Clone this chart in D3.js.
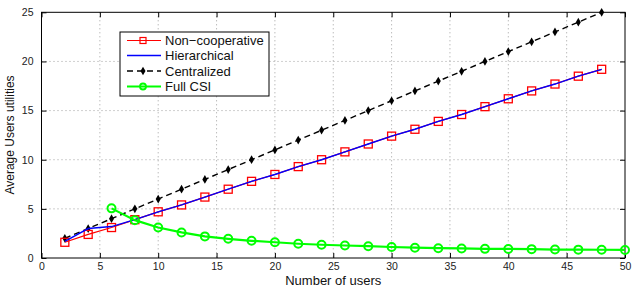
<!DOCTYPE html>
<html>
<head>
<meta charset="utf-8">
<script src="https://cdn.jsdelivr.net/npm/d3@7"></script>
<style>
  body { margin: 0; background: #fff; }
  svg { font-family: "Liberation Sans", Arial, sans-serif; }
</style>
</head>
<body>
<svg width="632" height="287"></svg>
<script>
// data
let users = [2, 4, 6, 8, 10, 12, 14, 16, 18, 20, 22, 24, 26, 28, 30, 32, 34, 36, 38, 40, 42, 44, 46, 48];
let nonCoop = [1.6, 2.4, 3.1, 3.9, 4.7, 5.4, 6.2, 7.0, 7.8, 8.5, 9.3, 10.0, 10.8, 11.6, 12.4, 13.1, 13.9, 14.6, 15.4, 16.2, 17.0, 17.7, 18.5, 19.2];
let hier = [1.7, 3.0, 3.2, 3.9, 4.7, 5.4, 6.2, 7.0, 7.8, 8.5, 9.3, 10.0, 10.8, 11.6, 12.4, 13.1, 13.9, 14.6, 15.4, 16.2, 17.0, 17.7, 18.5, 19.2];
let central = [2, 3, 4, 5, 6, 7, 8, 9, 10, 11, 12, 13, 14, 15, 16, 17, 18, 19, 20, 21, 22, 23, 24, 25];
let csiUsers = [6, 8, 10, 12, 14, 16, 18, 20, 22, 24, 26, 28, 30, 32, 34, 36, 38, 40, 42, 44, 46, 48, 50];
let fullCsi = [5.05, 3.85, 3.1, 2.6, 2.2, 1.95, 1.75, 1.6, 1.45, 1.35, 1.27, 1.2, 1.12, 1.05, 1.0, 0.97, 0.93, 0.92, 0.9, 0.86, 0.85, 0.84, 0.82];
let xTicks = [0, 5, 10, 15, 20, 25, 30, 35, 40, 45, 50];
let yTicks = [0, 5, 10, 15, 20, 25];
let legendNames = ["Non\u2212cooperative", "Hierarchical", "Centralized", "Full CSI"];

let svg = d3.select("svg");
let pLeft = 41.5, pRight = 625, pTop = 12.3, pBottom = 258;

let x = d3.scaleLinear().domain([0, 50]).range([pLeft, pRight]);
let y = d3.scaleLinear().domain([0, 25]).range([pBottom, pTop]);

// grid
svg.append("g").selectAll("line").data(xTicks.slice(1, -1)).enter().append("line")
  .attr("x1", d => x(d)).attr("x2", d => x(d)).attr("y1", pTop).attr("y2", pBottom)
  .attr("stroke", "#888").attr("stroke-width", 0.8).attr("stroke-dasharray", "1,3");
svg.append("g").selectAll("line").data(yTicks.slice(1, -1)).enter().append("line")
  .attr("y1", d => y(d)).attr("y2", d => y(d)).attr("x1", pLeft).attr("x2", pRight)
  .attr("stroke", "#888").attr("stroke-width", 0.8).attr("stroke-dasharray", "1,3");

// axes with inward ticks
let styleAxis = g => {
  g.select(".domain").remove();
  g.selectAll("text").attr("font-size", 10.5).attr("fill", "#222");
  g.selectAll("line").attr("stroke", "#000");
};
svg.append("g").attr("transform", `translate(0,${pBottom})`)
  .call(d3.axisBottom(x).tickValues(xTicks).tickSizeInner(-5).tickSizeOuter(0).tickPadding(5))
  .call(styleAxis);
svg.append("g").attr("transform", `translate(${pLeft},0)`)
  .call(d3.axisLeft(y).tickValues(yTicks).tickSizeInner(-5).tickSizeOuter(0).tickPadding(8))
  .call(styleAxis);
svg.append("g").attr("transform", `translate(0,${pTop})`)
  .call(d3.axisTop(x).tickValues(xTicks).tickSizeInner(-5).tickSizeOuter(0).tickFormat(""))
  .call(styleAxis);
svg.append("g").attr("transform", `translate(${pRight},0)`)
  .call(d3.axisRight(y).tickValues(yTicks).tickSizeInner(-5).tickSizeOuter(0).tickFormat(""))
  .call(styleAxis);

svg.append("rect").attr("x", pLeft).attr("y", pTop).attr("width", pRight - pLeft).attr("height", pBottom - pTop)
  .attr("fill", "none").attr("stroke", "#000").attr("stroke-width", 1);

let line = d3.line().x(d => x(d[0])).y(d => y(d[1]));

let nonCoopPts = users.map((u, i) => [u, nonCoop[i]]);
let hierPts = users.map((u, i) => [u, hier[i]]);
let centralPts = users.map((u, i) => [u, central[i]]);
let csiPts = csiUsers.map((u, i) => [u, fullCsi[i]]);

let starSym = d3.symbol().type(d3.symbolDiamond).size(22);

// centralized
svg.append("path").datum(centralPts).attr("d", line).attr("fill", "none")
  .attr("stroke", "#000").attr("stroke-width", 1.4).attr("stroke-dasharray", "6,4");
svg.append("g").selectAll("path").data(centralPts).enter().append("path")
  .attr("d", starSym).attr("transform", d => `translate(${x(d[0])},${y(d[1])})`).attr("fill", "#000");

// non-cooperative
svg.append("path").datum(nonCoopPts).attr("d", line).attr("fill", "none")
  .attr("stroke", "#f00").attr("stroke-width", 1.2);
svg.append("g").selectAll("rect").data(nonCoopPts).enter().append("rect")
  .attr("x", d => x(d[0]) - 4).attr("y", d => y(d[1]) - 4).attr("width", 8).attr("height", 8)
  .attr("fill", "none").attr("stroke", "#f00").attr("stroke-width", 1.3);

// hierarchical
svg.append("path").datum(hierPts).attr("d", line).attr("fill", "none")
  .attr("stroke", "#00f").attr("stroke-width", 1.4);

// full CSI
svg.append("path").datum(csiPts).attr("d", line).attr("fill", "none")
  .attr("stroke", "#0f0").attr("stroke-width", 2.2);
svg.append("g").selectAll("circle").data(csiPts).enter().append("circle")
  .attr("cx", d => x(d[0])).attr("cy", d => y(d[1])).attr("r", 4)
  .attr("fill", "none").attr("stroke", "#0f0").attr("stroke-width", 2);

// labels
svg.append("text").attr("x", (pLeft + pRight) / 2).attr("y", 284.5).attr("text-anchor", "middle")
  .attr("font-size", 13).attr("fill", "#111").text("Number of users");
svg.append("text").attr("transform", "translate(14,135) rotate(-90)").attr("text-anchor", "middle")
  .attr("font-size", 12).attr("fill", "#111").text("Average Users utilities");

// legend
let lg = svg.append("g");
lg.append("rect").attr("x", 120).attr("y", 32).attr("width", 149).attr("height", 64)
  .attr("fill", "#fff").attr("stroke", "#000").attr("stroke-width", 1);
let rowY = [40.5, 55.5, 71, 86.5];
let lineStyles = [
  { c: "#f00", w: 1.2, dash: null },
  { c: "#00f", w: 1.4, dash: null },
  { c: "#000", w: 1.4, dash: "6,4" },
  { c: "#0f0", w: 2.2, dash: null }
];
legendNames.forEach((n, i) => {
  let s = lineStyles[i];
  lg.append("line").attr("x1", 127).attr("x2", 161).attr("y1", rowY[i]).attr("y2", rowY[i])
    .attr("stroke", s.c).attr("stroke-width", s.w).attr("stroke-dasharray", s.dash);
  lg.append("text").attr("x", 165).attr("y", rowY[i] + 4.5).attr("font-size", 13).attr("fill", "#111").text(n);
});
lg.append("rect").attr("x", 140).attr("y", rowY[0] - 3).attr("width", 6).attr("height", 6)
  .attr("fill", "none").attr("stroke", "#f00").attr("stroke-width", 1.2);
lg.append("path").attr("d", starSym).attr("transform", `translate(143,${rowY[2]})`).attr("fill", "#000");
lg.append("circle").attr("cx", 143).attr("cy", rowY[3]).attr("r", 3)
  .attr("fill", "none").attr("stroke", "#0f0").attr("stroke-width", 1.8);
</script>
</body>
</html>
